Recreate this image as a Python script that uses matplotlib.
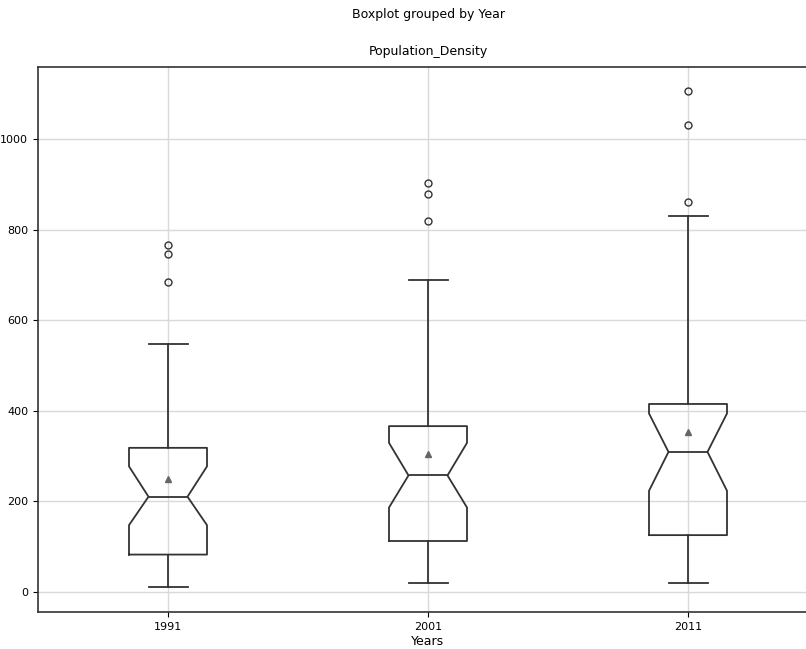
import matplotlib
matplotlib.use("Agg")
import matplotlib.pyplot as plt

plt.rcParams['font.family'] = ['DejaVu Sans Condensed', 'Liberation Sans Narrow', 'DejaVu Sans']

# Summary statistics of Population_Density per census year
years = ['1991', '2001', '2011']
q1 = [82, 112, 125]
median = [210, 257, 309]
q3 = [318, 366, 415]
whisker_low = [10, 20, 19]
whisker_high = [548, 689, 830]
notch_low = [147, 186, 223]
notch_high = [277, 329, 394]
means = [250, 305, 354]
outliers = [
    [684, 747, 767],
    [820, 879, 903],
    [862, 1032, 1107],
]

stats = []
for i, yr in enumerate(years):
    stats.append({
        'label': yr,
        'q1': q1[i], 'med': median[i], 'q3': q3[i],
        'whislo': whisker_low[i], 'whishi': whisker_high[i],
        'cilo': notch_low[i], 'cihi': notch_high[i],
        'mean': means[i], 'fliers': outliers[i],
    })

fig = plt.figure(figsize=(8.06, 6.49), dpi=100)
# axes is cut at the right edge of the figure, right spine not shown
ax = fig.add_axes([38 / 806, 0.057, 1 - 38 / 806, 0.8397])

line = dict(color='#333333', linewidth=1.3)
ax.bxp(stats, shownotches=True, showmeans=True, widths=0.3,
       boxprops=line, whiskerprops=line, capprops=line,
       medianprops=line,
       meanprops=dict(marker='^', markerfacecolor='#666666',
                      markeredgecolor='#666666', markersize=4.5),
       flierprops=dict(marker='o', markerfacecolor='none',
                       markeredgecolor='#333333', markersize=5))

ax.grid(True, color='#d9d9d9', linewidth=1)
ax.set_axisbelow(True)
ax.set_xlim(0.5, 0.5 + 768 / 260)
ax.set_ylim(-45, 1160)
ax.set_yticks([0, 200, 400, 600, 800, 1000])
ax.tick_params(labelsize=8)
for s in ax.spines.values():
    s.set_color('#333333')
    s.set_linewidth(1.2)
ax.spines['right'].set_visible(False)

ax.set_title('Population_Density', fontsize=9, pad=9, x=390 / 768)
ax.set_xlabel('Years', fontsize=9, labelpad=2, x=390 / 768)
fig.suptitle('Boxplot grouped by Year', fontsize=9, y=0.988, x=428 / 806)

fig.savefig('out.png', dpi=100)
